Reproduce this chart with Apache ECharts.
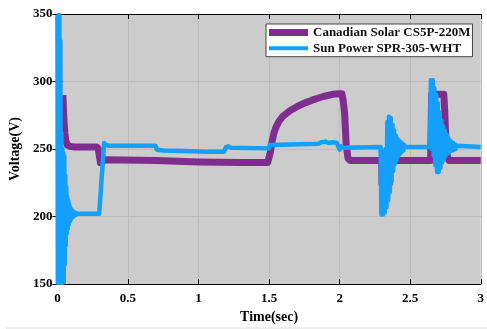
<!DOCTYPE html>
<html>
<head>
<meta charset="utf-8">
<script src="https://cdn.jsdelivr.net/npm/echarts@6/dist/echarts.min.js"></script>
<style>html,body{margin:0;padding:0;background:#fff}#c{width:487px;height:329px}</style>
</head>
<body>
<div id="c"></div>
<script>
const timeTicks = [0, 0.5, 1, 1.5, 2, 2.5, 3];
const voltTicks = [150, 200, 250, 300, 350];
const seriesNames = ['Canadian Solar CS5P-220M', 'Sun Power SPR-305-WHT'];

const canadianT = [0.039, 0.046, 0.053, 0.060, 0.070, 0.090, 0.120, 0.280, 0.290, 0.297, 0.305, 0.318, 0.335, 0.700, 1.000, 1.300, 1.490, 1.500, 1.510, 1.520, 1.535, 1.550, 1.570, 1.600, 1.650, 1.700, 1.750, 1.800, 1.850, 1.900, 1.950, 2.000, 2.016, 2.025, 2.035, 2.047, 2.060, 2.075, 2.298, 2.300, 2.352, 2.356, 2.645, 2.652, 2.738, 2.745, 2.752, 2.762, 2.775, 3.000];
const canadianV = [290, 272, 262, 256, 253, 252, 251.5, 251.5, 250, 245, 240, 240.5, 242, 241.5, 240.5, 240, 240, 241, 248, 255, 262, 266.5, 270.5, 274.5, 278.5, 281.5, 284, 286, 287.8, 289.3, 290.5, 291, 291, 286, 277, 252.4, 243, 241.5, 241.5, 224.5, 224.5, 241.5, 241.5, 290.5, 290.5, 278, 258, 245, 241.5, 241.5];

const sunPowerT = [
  0, 0.003, 0.007, 0.010, 0.014, 0.017, 0.021, 0.024, 0.028, 0.031, 0.035, 0.038, 0.042, 0.045, 0.049, 0.052, 0.056, 0.059, 0.063, 0.066, 0.070, 0.073, 0.077, 0.080, 0.084, 0.087, 0.091, 0.094, 0.098, 0.101, 0.105, 0.108, 0.112, 0.115, 0.119, 0.122, 0.126, 0.129, 0.133, 0.136, 0.140, 0.150,
  0.296, 0.306, 0.331, 0.345, 0.360, 0.695, 0.705, 0.750, 0.900, 1.050, 1.180, 1.195, 1.210, 1.230, 1.500, 1.505, 1.850, 1.870, 1.880, 1.900, 1.920, 1.950, 1.980, 2.000, 2.010, 2.030,
  2.290, 2.296, 2.302, 2.308, 2.314, 2.320, 2.326, 2.332, 2.338, 2.344, 2.350, 2.356, 2.362, 2.368, 2.374, 2.380, 2.386, 2.392, 2.398, 2.404, 2.410, 2.416, 2.422, 2.428, 2.434, 2.440, 2.446, 2.452, 2.458, 2.466,
  2.640, 2.647, 2.654, 2.660, 2.666, 2.672, 2.678, 2.684, 2.690, 2.696, 2.702, 2.708, 2.714, 2.720, 2.726, 2.732, 2.738, 2.744, 2.750, 2.756, 2.762, 2.768, 2.774, 2.780, 2.786, 2.792, 2.798, 2.804, 2.810, 2.816, 2.822, 2.830, 2.840, 3.000
];
const sunPowerV = [
  349, 151, 349, 151, 349, 151, 330, 151, 262, 151, 250, 151, 247, 151.5, 244.5, 164.5, 230.5, 178.5, 221.5, 187.5, 214.5, 191, 211.5, 194, 209, 196, 206.5, 197.5, 205.3, 198.8, 204.5, 199.7, 203.8, 200.3, 203.2, 200.7, 202.8, 201, 202.5, 201.2, 202.3, 202,
  202, 202.5, 254.5, 253, 252.5, 252.5, 249.5, 249, 248.5, 248, 248, 251.5, 252, 251, 250.5, 253, 254, 255, 254, 255.5, 254.5, 255, 254.5, 249.5, 252, 251,
  251.5, 201.5, 249, 201.5, 240, 203, 250, 207, 270, 212, 274, 218, 273, 226, 268, 234, 264, 239, 260, 242, 257.5, 245, 256, 246.5, 255, 248, 254, 249, 253, 251.5,
  251.5, 301, 250, 301, 245, 295, 238, 290, 233, 284, 233, 277, 236, 271, 240, 267, 242, 264, 245, 261, 246.5, 258.5, 247.5, 256.5, 248.5, 255.5, 249, 254.5, 249.5, 253.5, 250, 252.5, 251.5, 251.5
];

const pairs = (ts, vs) => ts.map((t, i) => [t, vs[i]]);
const FONT = 'Liberation Serif, Times New Roman, serif';
const labelStyle = {color: '#000', fontFamily: FONT, fontWeight: 'bold', fontSize: 13};

const chart = echarts.init(document.getElementById('c'), null, {renderer: 'canvas'});
chart.setOption({
  animation: false,
  backgroundColor: '#ffffff',
  grid: {left: 53, right: 6, top: 14, bottom: 43, show: true, backgroundColor: '#cccccc', borderWidth: 0},
  graphic: [{type: 'rect', shape: {x: 6, y: 327, width: 481, height: 2}, style: {fill: '#ececec'}, silent: true}],
  xAxis: [{
    type: 'value', position: 'bottom',
    min: timeTicks[0], max: timeTicks[timeTicks.length - 1], interval: timeTicks[1] - timeTicks[0],
    axisLine: {show: true, lineStyle: {color: '#000', width: 1}},
    axisTick: {show: true, inside: true, length: 5, lineStyle: {color: '#000'}},
    axisLabel: Object.assign({margin: 8}, labelStyle),
    splitLine: {show: true, lineStyle: {color: '#bcbcbc', width: 1}},
    name: 'Time(sec)', nameLocation: 'middle', nameGap: 23,
    nameTextStyle: {color: '#000', fontFamily: FONT, fontWeight: 'bold', fontSize: 14}
  }, {
    type: 'value', position: 'top',
    min: timeTicks[0], max: timeTicks[timeTicks.length - 1], interval: timeTicks[1] - timeTicks[0],
    axisLine: {show: true, lineStyle: {color: '#000', width: 1}},
    axisTick: {show: true, inside: true, length: 5, lineStyle: {color: '#000'}},
    axisLabel: {show: false}, splitLine: {show: false}
  }],
  yAxis: [{
    type: 'value', position: 'left',
    min: voltTicks[0], max: voltTicks[voltTicks.length - 1], interval: voltTicks[1] - voltTicks[0],
    axisLine: {show: true, lineStyle: {color: '#000', width: 1}},
    axisTick: {show: true, inside: true, length: 5, lineStyle: {color: '#000'}},
    axisLabel: Object.assign({margin: 5}, labelStyle),
    splitLine: {show: true, lineStyle: {color: '#bcbcbc', width: 1}},
    name: 'Voltage(V)', nameLocation: 'middle', nameGap: 27,
    nameTextStyle: {color: '#000', fontFamily: FONT, fontWeight: 'bold', fontSize: 14}
  }, {
    type: 'value', position: 'right',
    min: voltTicks[0], max: voltTicks[voltTicks.length - 1], interval: voltTicks[1] - voltTicks[0],
    axisLine: {show: true, lineStyle: {color: '#000', width: 1}},
    axisTick: {show: true, inside: true, length: 5, lineStyle: {color: '#000'}},
    axisLabel: {show: false}, splitLine: {show: false}
  }],
  legend: {
    orient: 'vertical', left: 266, top: 24,
    backgroundColor: '#ffffff', borderColor: '#444444', borderWidth: 1,
    padding: [2, 2, 2, 3], itemWidth: 39, itemHeight: 14, itemGap: 2.7,
    symbolKeepAspect: true,
    textStyle: {color: '#111', fontFamily: FONT, fontWeight: 'bold', fontSize: 13},
    data: [
      {name: seriesNames[0], icon: 'path://M0,0L39,0L39,7L0,7Z'},
      {name: seriesNames[1], icon: 'path://M0,0L39,0L39,4L0,4Z'}
    ]
  },
  series: [{
    name: seriesNames[0], type: 'line', symbol: 'none', showSymbol: false,
    xAxisIndex: 0, yAxisIndex: 0,
    color: '#7e2f8e',
    lineStyle: {width: 7, color: '#7e2f8e', join: 'round'},
    data: pairs(canadianT, canadianV)
  }, {
    name: seriesNames[1], type: 'line', symbol: 'none', showSymbol: false,
    xAxisIndex: 0, yAxisIndex: 0,
    color: '#14a0fa',
    lineStyle: {width: 4.5, color: '#14a0fa', join: 'round'},
    data: pairs(sunPowerT, sunPowerV)
  }]
});
</script>
</body>
</html>
